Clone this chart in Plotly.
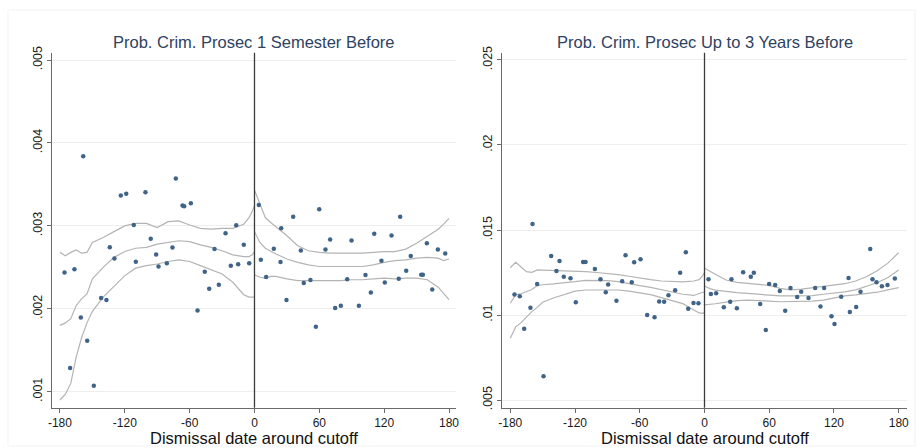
import plotly.graph_objects as go

# ---------------- data: panel A (1 semester before) ----------------
A_bin_days = [-175.8, -170.6, -166.6, -160.7, -158.5, -154.8, -148.7, -141.9, -137.0, -133.9,
              -129.6, -123.7, -118.7, -111.7, -109.8, -100.9, -96.0, -91.0, -88.8, -81.1,
              -75.9, -72.8, -66.6, -65.1, -58.9, -52.7, -46.0, -41.9, -37.0, -33.0,
              -26.8, -21.9, -16.9, -15.1, -9.9, -4.9,
              4.0, 5.9, 10.8, 17.9, 24.1, 24.7, 29.6, 35.8, 42.9, 45.6,
              51.8, 56.8, 59.9, 65.7, 70.0, 74.7, 79.9, 85.8, 89.8, 96.6,
              102.7, 107.7, 110.8, 117.5, 120.6, 126.8, 133.5, 134.8, 140.4, 144.6,
              154.3, 155.8, 159.5, 164.5, 169.7, 176.5]
A_bin_means = [0.002438, 0.001285, 0.002478, 0.001896, 0.00384, 0.001614, 0.001072, 0.002129, 0.002105, 0.002743,
               0.002606, 0.003365, 0.003386, 0.00301, 0.002566, 0.003406, 0.002843, 0.002654, 0.00251, 0.00255,
               0.00274, 0.00357, 0.003245, 0.003237, 0.003273, 0.00198, 0.002446, 0.002241, 0.00272, 0.00229,
               0.002912, 0.00252, 0.003008, 0.002538, 0.002771, 0.00255,
               0.00325, 0.00259, 0.002382, 0.002723, 0.002563, 0.00297, 0.002105, 0.00311, 0.002703, 0.00231,
               0.002346, 0.001783, 0.0032, 0.002715, 0.002835, 0.002008, 0.002036, 0.002357, 0.002823, 0.002036,
               0.002406, 0.002197, 0.002904, 0.002578, 0.002317, 0.002884, 0.002361, 0.00311, 0.002458, 0.002635,
               0.00241, 0.00241, 0.002791, 0.002233, 0.002715, 0.002667]

A_pre_days = [-180, -175, -170, -165, -160, -155, -150, -140, -130, -120, -110, -100,
              -90, -80, -70, -60, -50, -40, -30, -20, -10, -5, -2, 0]
A_pre_upper = [0.00268, 0.00264, 0.00268, 0.00271, 0.00267, 0.00268, 0.00280, 0.00286, 0.00293, 0.00300, 0.00303, 0.00303,
               0.00298, 0.00305, 0.00306, 0.00301, 0.00297, 0.00296, 0.00297, 0.00297, 0.00302, 0.00310, 0.00318, 0.00324]
A_pre_fit = [0.00180, 0.00183, 0.00188, 0.00204, 0.00212, 0.00218, 0.00236, 0.00250, 0.00262, 0.00269, 0.00273, 0.00274,
             0.00278, 0.00280, 0.00282, 0.00281, 0.00277, 0.00274, 0.00270, 0.00265, 0.00263, 0.00263, 0.00265, 0.00269]
A_pre_lower = [0.00090, 0.00097, 0.00110, 0.00142, 0.00165, 0.00183, 0.00197, 0.00214, 0.00227, 0.00240, 0.00249, 0.00252,
               0.00254, 0.00257, 0.00259, 0.00257, 0.00252, 0.00247, 0.00242, 0.00232, 0.00217, 0.00214, 0.00214, 0.00214]

A_post_days = [0, 2, 5, 10, 15, 20, 30, 40, 50, 60, 70, 80, 90, 100, 110, 120, 130, 140, 150, 160, 170, 175, 180]
A_post_upper = [0.00343, 0.00336, 0.00325, 0.00310, 0.00304, 0.00299, 0.00288, 0.00276, 0.00270, 0.00268, 0.00267, 0.00267,
                0.00267, 0.00267, 0.00268, 0.00269, 0.00269, 0.00272, 0.00279, 0.00287, 0.00296, 0.00302, 0.00309]
A_post_fit = [0.00293, 0.00288, 0.00280, 0.00273, 0.00269, 0.00266, 0.00260, 0.00256, 0.00253, 0.00251, 0.00251, 0.00251,
              0.00251, 0.00251, 0.00253, 0.00256, 0.00258, 0.00259, 0.00261, 0.00262, 0.00261, 0.00258, 0.00260]
A_post_lower = [0.00241, 0.00240, 0.00238, 0.00237, 0.00239, 0.00239, 0.00236, 0.00234, 0.00234, 0.00234, 0.00234, 0.00234,
                0.00235, 0.00235, 0.00236, 0.00237, 0.00236, 0.00237, 0.00237, 0.00235, 0.00226, 0.00218, 0.00211]

# ---------------- data: panel B (up to 3 years before) ----------------
B_bin_days = [-176.1, -171.2, -167.1, -161.3, -159.4, -155.1, -149.2, -142.1, -137.2, -134.4,
              -130.4, -124.2, -119.3, -112.5, -110.3, -101.6, -96.4, -91.5, -89.3, -81.6,
              -76.3, -73.2, -67.4, -65.2, -59.3, -53.1, -46.3, -42.0, -37.4, -33.4,
              -27.2, -22.6, -17.3, -15.1, -10.2, -5.6,
              3.7, 5.9, 10.8, 17.9, 23.8, 25.0, 30.0, 35.8, 42.9, 45.7,
              51.6, 56.8, 59.9, 65.5, 69.8, 74.8, 79.7, 85.9, 89.6, 96.4,
              102.6, 107.5, 110.9, 117.7, 120.5, 126.7, 133.5, 134.7, 140.6, 144.6,
              153.6, 155.7, 159.4, 164.4, 169.6, 176.4]
B_bin_means = [0.0112, 0.0111, 0.009196, 0.01043, 0.01535, 0.011824, 0.006392, 0.01347, 0.01259, 0.01318,
               0.012255, 0.01216, 0.010745, 0.01312, 0.01312, 0.012706, 0.0121, 0.011333, 0.0118, 0.010843,
               0.01198, 0.01351, 0.01192, 0.0131, 0.01328, 0.0100, 0.009863, 0.0108, 0.01078, 0.01116,
               0.01145, 0.01249, 0.013686, 0.010373, 0.01071, 0.01069,
               0.0121, 0.011235, 0.011275, 0.01045, 0.01078, 0.0121, 0.01039, 0.01251, 0.012255, 0.01249,
               0.010647, 0.009118, 0.011824, 0.011765, 0.011412, 0.010255, 0.01159, 0.011059, 0.011373, 0.011,
               0.01159, 0.0105, 0.01159, 0.009922, 0.009471, 0.01108, 0.01218, 0.01017, 0.01047, 0.01137,
               0.013882, 0.0121, 0.01192, 0.011686, 0.011765, 0.01214]

B_pre_days = [-180, -175, -170, -165, -160, -155, -150, -140, -130, -120, -110, -100,
              -90, -80, -70, -60, -50, -40, -30, -20, -10, -5, -2, 0]
B_pre_upper = [0.01278, 0.01310, 0.01282, 0.01255, 0.01251, 0.01265, 0.01264, 0.01262, 0.01261, 0.01261, 0.01255, 0.01250,
               0.01245, 0.01238, 0.01228, 0.01216, 0.01208, 0.01200, 0.01197, 0.01195, 0.01200, 0.01208, 0.01228, 0.01249]
B_pre_fit = [0.01069, 0.01120, 0.01125, 0.01137, 0.01150, 0.01173, 0.01178, 0.01183, 0.01188, 0.01196, 0.01204, 0.01203,
             0.01202, 0.01196, 0.01183, 0.01173, 0.01162, 0.01150, 0.01138, 0.01122, 0.01115, 0.01127, 0.01130, 0.01137]
B_pre_lower = [0.00863, 0.00930, 0.00955, 0.00990, 0.01020, 0.01045, 0.01075, 0.01100, 0.01120, 0.01140, 0.01147, 0.01147,
               0.01147, 0.01147, 0.01140, 0.01131, 0.01120, 0.01102, 0.01085, 0.01067, 0.01030, 0.01012, 0.01010, 0.01014]

B_post_days = [0, 5, 10, 20, 30, 40, 50, 60, 70, 80, 90, 100, 110, 120, 130, 140, 150, 160, 170, 180]
B_post_upper = [0.01275, 0.01255, 0.01240, 0.01206, 0.01192, 0.01186, 0.01180, 0.01174, 0.01157, 0.01148, 0.01152, 0.01160,
                0.01165, 0.01172, 0.01184, 0.01200, 0.01225, 0.01260, 0.01305, 0.01367]
B_post_fit = [0.01171, 0.01155, 0.01146, 0.01137, 0.01132, 0.01127, 0.01122, 0.01118, 0.01112, 0.01112, 0.01112, 0.01114,
              0.01122, 0.01128, 0.01136, 0.01148, 0.01167, 0.01190, 0.01220, 0.01265]
B_post_lower = [0.01059, 0.01062, 0.01066, 0.01076, 0.01085, 0.01088, 0.01087, 0.01082, 0.01078, 0.01079, 0.01080, 0.01082,
                0.01088, 0.01102, 0.01112, 0.01118, 0.01124, 0.01134, 0.01148, 0.01161]

CUTOFF = 0
x_tickvals = [-180, -120, -60, 0, 60, 120, 180]
x_ticktext = ["-180", "-120", "-60", "0", "60", "120", "180"]
A_ytickvals = [0.001, 0.002, 0.003, 0.004, 0.005]
A_yticktext = [".001", ".002", ".003", ".004", ".005"]
B_ytickvals = [0.005, 0.01, 0.015, 0.02, 0.025]
B_yticktext = [".005", ".01", ".015", ".02", ".025"]
titles = ["Prob. Crim. Prosec 1 Semester Before", "Prob. Crim. Prosec Up to 3 Years Before"]
x_title = "Dismissal date around cutoff"

# ---------------- styling ----------------
W, H = 917, 448
MARKER_COLOR = "#3f6488"
CI_COLOR = "#b4b4b4"
AXIS_COLOR = "#6a6a6a"
GRID_COLOR = "#eeeeee"
TITLE_COLOR = "#2e4262"
FONT = "Liberation Sans, Arial, sans-serif"

fig = go.Figure()

panels = [
    dict(days=A_bin_days, means=A_bin_means,
         pre=(A_pre_days, A_pre_upper, A_pre_fit, A_pre_lower),
         post=(A_post_days, A_post_upper, A_post_fit, A_post_lower), xa="x", ya="y"),
    dict(days=B_bin_days, means=B_bin_means,
         pre=(B_pre_days, B_pre_upper, B_pre_fit, B_pre_lower),
         post=(B_post_days, B_post_upper, B_post_fit, B_post_lower), xa="x2", ya="y2"),
]

for p in panels:
    for seg in (p["pre"], p["post"]):
        d = seg[0]
        for ys in seg[1:]:
            fig.add_trace(go.Scatter(x=d, y=ys, mode="lines", xaxis=p["xa"], yaxis=p["ya"],
                                     line=dict(color=CI_COLOR, width=1.2), hoverinfo="skip",
                                     showlegend=False))
    fig.add_trace(go.Scatter(x=p["days"], y=p["means"], mode="markers", xaxis=p["xa"], yaxis=p["ya"],
                             marker=dict(color=MARKER_COLOR, size=4.5), showlegend=False))

def px_x(v):
    return v / W

def px_y(v):
    return 1 - v / H

ydom = [px_y(407.7), px_y(52.7)]
common_x = dict(showgrid=False, zeroline=False, showline=True, linecolor=AXIS_COLOR, linewidth=1.3,
                ticks="outside", ticklen=4, tickcolor=AXIS_COLOR, tickwidth=1.2,
                tickvals=x_tickvals, ticktext=x_ticktext, automargin=False,
                tickfont=dict(size=12, color="#1a1a1a", family=FONT))
common_y = dict(showgrid=True, gridcolor=GRID_COLOR, gridwidth=1, zeroline=False, showline=True,
                linecolor=AXIS_COLOR, linewidth=1.3, ticks="outside", ticklen=4, tickcolor=AXIS_COLOR,
                tickwidth=1.2, tickangle=-90, automargin=False,
                tickfont=dict(size=12.5, color="#1a1a1a", family=FONT))

fig.update_layout(
    width=W, height=H, margin=dict(l=0, r=0, t=0, b=0, autoexpand=False),
    paper_bgcolor="white", plot_bgcolor="white", showlegend=False,
    font=dict(family=FONT),
    xaxis=dict(domain=[px_x(52.3), px_x(455.7)], range=[-187.1, 186.2], anchor="y", **common_x),
    yaxis=dict(domain=ydom, range=[0.000807, 0.005088], anchor="x",
               tickvals=A_ytickvals, ticktext=A_yticktext, **common_y),
    xaxis2=dict(domain=[px_x(502.3), px_x(906.7)], range=[-187.4, 187.4], anchor="y2", **common_x),
    yaxis2=dict(domain=ydom, range=[0.004547, 0.025429], anchor="x2",
                tickvals=B_ytickvals, ticktext=B_yticktext, **common_y),
)

# cutoff lines
for xa, ya in (("x", "y"), ("x2", "y2")):
    fig.add_shape(type="line", xref=xa, yref=f"{ya} domain", x0=CUTOFF, x1=CUTOFF, y0=0, y1=1,
                  line=dict(color="#3a3a3a", width=1.3), layer="above")

# titles and x-axis titles
for t, (l, r) in zip(titles, ((52.3, 455.7), (502.3, 906.7))):
    fig.add_annotation(text=t, xref="paper", yref="paper", x=px_x((l + r) / 2), y=px_y(41.5),
                       showarrow=False, xanchor="center", yanchor="middle",
                       font=dict(size=16.5, color=TITLE_COLOR, family=FONT))
for xa in ("x", "x2"):
    fig.add_annotation(text=x_title, xref=f"{xa} domain", yref="paper", x=0.5, y=px_y(438.3),
                       showarrow=False, xanchor="center", yanchor="middle", borderpad=0,
                       font=dict(size=16.5, color="#111111", family=FONT))

# faint outer frame
fig.add_shape(type="rect", xref="paper", yref="paper", x0=px_x(8), x1=px_x(915), y0=px_y(446), y1=px_y(10),
              line=dict(color="#f3f3f3", width=1), layer="below")

fig.write_html("out.html", config={"displayModeBar": False},
               post_script="document.body.style.margin='0';document.body.style.overflow='hidden';")
